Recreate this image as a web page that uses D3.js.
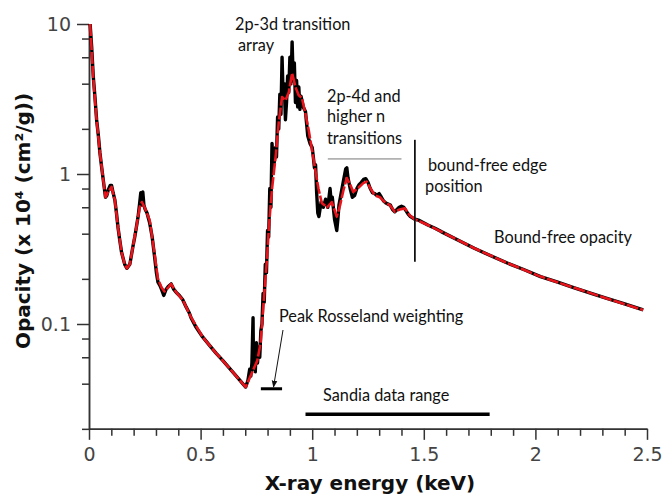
<!DOCTYPE html>
<html>
<head>
<meta charset="utf-8">
<script src="https://cdn.jsdelivr.net/npm/d3@7"></script>
<style>
  body { margin: 0; background: #fff; }
  .note { font-family: Lato, "Open Sans", sans-serif; font-size: 16.3px; fill: #111; }
</style>
</head>
<body>
<div id="chart"></div>
<script>
// smoothed opacity (red)
const redEnergy = [0.005, 0.019, 0.034, 0.049, 0.064, 0.074, 0.086, 0.101, 0.116, 0.130, 0.146, 0.160, 0.170, 0.183, 0.197, 0.212, 0.227, 0.237, 0.249, 0.272, 0.294, 0.309, 0.325, 0.338, 0.355, 0.368, 0.390, 0.420, 0.457, 0.509, 0.569, 0.628, 0.702, 0.732, 0.754, 0.769, 0.784, 0.798, 0.806, 0.813, 0.821, 0.836, 0.850, 0.865, 0.880, 0.895, 0.910, 0.925, 0.939, 0.954, 0.969, 0.984, 0.999, 1.014, 1.028, 1.043, 1.066, 1.088, 1.110, 1.125, 1.140, 1.155, 1.170, 1.184, 1.207, 1.229, 1.244, 1.259, 1.281, 1.303, 1.325, 1.348, 1.370, 1.392, 1.415, 1.437, 1.459, 1.518, 1.578, 1.726, 1.874, 2.023, 2.171, 2.320, 2.483];
const redOpacity = [10.0, 4.4, 2.3, 1.38, 0.91, 0.70, 0.76, 0.82, 0.67, 0.44, 0.30, 0.25, 0.235, 0.25, 0.33, 0.44, 0.60, 0.65, 0.60, 0.49, 0.29, 0.20, 0.175, 0.165, 0.175, 0.185, 0.163, 0.145, 0.111, 0.082, 0.064, 0.051, 0.038, 0.048, 0.057, 0.075, 0.15, 0.28, 0.44, 0.60, 0.82, 1.30, 2.2, 3.26, 3.1, 3.5, 4.7, 3.8, 3.36, 3.2, 2.55, 1.97, 1.45, 1.06, 0.80, 0.64, 0.60, 0.65, 0.52, 0.62, 0.78, 0.94, 0.85, 0.76, 0.81, 0.87, 0.89, 0.81, 0.72, 0.70, 0.65, 0.62, 0.56, 0.58, 0.59, 0.53, 0.50, 0.457, 0.413, 0.32, 0.255, 0.207, 0.175, 0.148, 0.124];

// detailed opacity (black)
const blackEnergy = [0.005, 0.012, 0.019, 0.027, 0.034, 0.042, 0.049, 0.057, 0.064, 0.074, 0.080, 0.086, 0.095, 0.101, 0.108, 0.116, 0.123, 0.130, 0.138, 0.146, 0.160, 0.170, 0.183, 0.197, 0.205, 0.212, 0.220, 0.227, 0.232, 0.236, 0.241, 0.246, 0.252, 0.260, 0.272, 0.283, 0.294, 0.302, 0.309, 0.318, 0.325, 0.335, 0.345, 0.355, 0.368, 0.380, 0.390, 0.405, 0.420, 0.435, 0.450, 0.457, 0.480, 0.509, 0.540, 0.569, 0.600, 0.628, 0.660, 0.702,
  0.712, 0.720, 0.725, 0.730, 0.735, 0.737, 0.742, 0.745, 0.750, 0.755, 0.760, 0.765, 0.770, 0.775, 0.780, 0.785, 0.790, 0.795, 0.800, 0.805, 0.810, 0.815, 0.820, 0.825, 0.830, 0.835, 0.840, 0.845, 0.850, 0.855, 0.860, 0.865, 0.870, 0.875, 0.880, 0.885, 0.890, 0.895, 0.900, 0.905, 0.910, 0.915, 0.920, 0.925, 0.930, 0.935, 0.940, 0.945, 0.950, 0.960, 0.970, 0.980, 0.990, 1.000, 1.005, 1.010, 1.015, 1.020, 1.025, 1.030, 1.040, 1.050, 1.060, 1.070, 1.080, 1.085, 1.090, 1.100, 1.110, 1.115, 1.120, 1.130, 1.140, 1.150, 1.155, 1.160, 1.170, 1.180, 1.190, 1.200, 1.210, 1.220, 1.230, 1.240, 1.250, 1.260, 1.270, 1.280, 1.290, 1.300, 1.310, 1.320, 1.330, 1.340, 1.350, 1.360, 1.370, 1.380, 1.390, 1.400, 1.410, 1.420, 1.430, 1.440, 1.460,
  1.480, 1.518, 1.550, 1.578, 1.650, 1.726, 1.800, 1.874, 1.950, 2.023, 2.100, 2.171, 2.250, 2.320, 2.400, 2.483];
const blackOpacity = [10, 7.0, 4.5, 3.2, 2.3, 1.8, 1.38, 1.1, 0.91, 0.70, 0.72, 0.78, 0.84, 0.84, 0.75, 0.67, 0.55, 0.44, 0.36, 0.30, 0.25, 0.235, 0.25, 0.33, 0.38, 0.44, 0.52, 0.64, 0.75, 0.62, 0.76, 0.62, 0.58, 0.55, 0.47, 0.38, 0.28, 0.22, 0.19, 0.18, 0.17, 0.155, 0.17, 0.178, 0.185, 0.17, 0.163, 0.155, 0.145, 0.13, 0.118, 0.11, 0.095, 0.082, 0.072, 0.064, 0.057, 0.051, 0.045, 0.038,
  0.042, 0.05, 0.045, 0.055, 0.11, 0.05, 0.07, 0.048, 0.075, 0.055, 0.07, 0.06, 0.09, 0.10, 0.16, 0.14, 0.25, 0.22, 0.42, 0.38, 0.8, 0.6, 1.6, 1.1, 1.2, 1.5, 1.3, 2.4, 2.0, 3.4, 2.5, 6.0, 3.2, 4.0, 2.3, 3.0, 4.5, 3.5, 6.0, 4.0, 7.6, 4.2, 5.5, 3.0, 4.2, 2.8, 3.8, 2.7, 3.3, 2.8, 2.6, 1.8, 1.6, 1.5, 1.3, 1.1, 1.15, 0.75, 0.55, 0.52, 0.65, 0.6, 0.68, 0.6, 0.80, 0.65, 0.7, 0.5, 0.42, 0.5, 0.62, 0.75, 0.90, 1.08, 1.1, 0.95, 0.80, 0.70, 0.72, 0.80, 0.85, 0.88, 0.92, 0.93, 0.88, 0.80, 0.75, 0.74, 0.72, 0.74, 0.70, 0.66, 0.64, 0.63, 0.62, 0.58, 0.56, 0.58, 0.60, 0.61, 0.60, 0.57, 0.54, 0.52, 0.50,
  0.49, 0.457, 0.435, 0.413, 0.365, 0.32, 0.285, 0.255, 0.23, 0.207, 0.19, 0.175, 0.16, 0.148, 0.136, 0.124];

const xMajorTicks = [0, 0.5, 1, 1.5, 2, 2.5];
const xMinorTicks = [0.1, 0.2, 0.3, 0.4, 0.6, 0.7, 0.8, 0.9, 1.1, 1.2, 1.3, 1.4, 1.6, 1.7, 1.8, 1.9, 2.1, 2.2, 2.3, 2.4];
const yMajorTicks = [0.1, 1, 10];
const yMinorTicks = [0.02, 0.04, 0.06, 0.08, 0.2, 0.4, 0.6, 0.8, 2, 4, 6, 8];

// annotation ranges [start, end, opacity level]
const rosselandRange = [0.77, 0.865, 0.037];
const sandiaRange = [0.97, 1.795, 0.025];
const edgeEnergy = 1.46;
const edgeSpan = [1.69, 0.26];
const higherNRange = [1.07, 1.40, 1.26];

const width = 663, height = 496;
const margin = {left: 89, top: 24};
const plotW = 558;

const x = d3.scaleLinear().domain([0, 2.5]).range([margin.left, margin.left + plotW]);
const y = d3.scaleLog().domain([0.02, 10]).range([24 + 150 * Math.log10(10 / 0.02), margin.top]);

const svg = d3.select('#chart').append('svg')
    .attr('width', width)
    .attr('height', height)
    .style('background-color', '#fff');

const axisColor = '#333';
const tickFont = '"DejaVu Sans", sans-serif';

function styleAxis(g) {
    g.select('.domain').style('stroke', axisColor).style('stroke-width', 1.5);
    g.selectAll('.tick line').style('stroke', axisColor).style('stroke-width', 1.5);
    g.selectAll('text').style('fill', '#444').style('font-family', tickFont).style('font-size', '19px');
}

// x axis
const xAxisG = svg.append('g')
    .attr('transform', `translate(0,${y(0.02)})`)
    .call(d3.axisBottom(x).tickValues(xMajorTicks).tickSize(11).tickSizeOuter(0).tickPadding(8)
        .tickFormat(d => d3.format('')(d)));
styleAxis(xAxisG);
const xMinorG = svg.append('g')
    .attr('transform', `translate(0,${y(0.02)})`)
    .call(d3.axisBottom(x).tickValues(xMinorTicks).tickSize(7).tickSizeOuter(0).tickFormat(''));
styleAxis(xMinorG);

// y axis
const yAxisG = svg.append('g')
    .attr('transform', `translate(${margin.left},0)`)
    .call(d3.axisLeft(y).tickValues(yMajorTicks).tickSize(12).tickSizeOuter(0).tickPadding(6)
        .tickFormat(d => d3.format('')(d)));
styleAxis(yAxisG);
const yMinorG = svg.append('g')
    .attr('transform', `translate(${margin.left},0)`)
    .call(d3.axisLeft(y).tickValues(yMinorTicks).tickSize(7).tickSizeOuter(0).tickFormat(''));
styleAxis(yMinorG);

// axis titles
svg.append('text')
    .attr('x', 370)
    .attr('y', 490)
    .attr('text-anchor', 'middle')
    .style('font-family', tickFont)
    .style('font-weight', 'bold')
    .style('font-size', '20px')
    .style('fill', '#111')
    .text('X-ray energy (keV)');

svg.append('text')
    .attr('transform', 'translate(30,221) rotate(-90)')
    .attr('text-anchor', 'middle')
    .style('font-family', tickFont)
    .style('font-weight', 'bold')
    .style('font-size', '20px')
    .style('fill', '#111')
    .text('Opacity (x 10\u2074 (cm\u00b2/g))');

// curves
const blackData = blackEnergy.map((e, i) => ({e, k: blackOpacity[i]}));
const redData = redEnergy.map((e, i) => ({e, k: redOpacity[i]}));
const line = d3.line().x(d => x(d.e)).y(d => y(d.k));

svg.append('path')
    .datum(blackData)
    .attr('d', line)
    .attr('fill', 'none')
    .attr('stroke', '#000')
    .attr('stroke-width', 3.4)
    .attr('stroke-linejoin', 'round');

svg.append('path')
    .datum(redData)
    .attr('d', line)
    .attr('fill', 'none')
    .attr('stroke', '#e8141b')
    .attr('stroke-width', 2.6)
    .attr('stroke-dasharray', '12,2')
    .attr('stroke-linejoin', 'round');

// annotation lines
svg.append('line')
    .attr('x1', x(edgeEnergy)).attr('x2', x(edgeEnergy))
    .attr('y1', y(edgeSpan[0])).attr('y2', y(edgeSpan[1]))
    .attr('stroke', '#111').attr('stroke-width', 1.8);

svg.append('line')
    .attr('x1', x(higherNRange[0])).attr('x2', x(higherNRange[1]))
    .attr('y1', y(higherNRange[2])).attr('y2', y(higherNRange[2]))
    .attr('stroke', '#777').attr('stroke-width', 1);

svg.append('line')
    .attr('x1', x(rosselandRange[0])).attr('x2', x(rosselandRange[1]))
    .attr('y1', y(rosselandRange[2])).attr('y2', y(rosselandRange[2]))
    .attr('stroke', '#000').attr('stroke-width', 3);

svg.append('line')
    .attr('x1', x(sandiaRange[0])).attr('x2', x(sandiaRange[1]))
    .attr('y1', y(sandiaRange[2])).attr('y2', y(sandiaRange[2]))
    .attr('stroke', '#000').attr('stroke-width', 3.5);

// arrow to Rosseland bar
svg.append('defs').append('marker')
    .attr('id', 'arrow')
    .attr('viewBox', '0 0 10 10')
    .attr('refX', 9).attr('refY', 5)
    .attr('markerWidth', 7).attr('markerHeight', 7)
    .attr('orient', 'auto')
    .append('path')
    .attr('d', 'M0,1 L10,5 L0,9 Z')
    .attr('fill', '#111');

svg.append('line')
    .attr('x1', 283).attr('y1', 330)
    .attr('x2', 273.5).attr('y2', 387)
    .attr('stroke', '#111').attr('stroke-width', 1)
    .attr('marker-end', 'url(#arrow)');

// annotation text
const notes = [
    ['2p-3d transition', 235, 30],
    ['array', 238, 51],
    ['2p-4d and', 327, 101.5],
    ['higher n', 327, 121.5],
    ['transitions', 327, 143.5],
    ['bound-free edge', 428, 170.5],
    ['position', 425, 192],
    ['Bound-free opacity', 494, 243],
    ['Peak Rosseland weighting', 279, 321.5],
    ['Sandia data range', 323, 400.5]
];

svg.append('g')
    .selectAll('text')
    .data(notes)
    .enter().append('text')
    .attr('class', 'note')
    .attr('x', d => d[1])
    .attr('y', d => d[2])
    .text(d => d[0]);
</script>
</body>
</html>
